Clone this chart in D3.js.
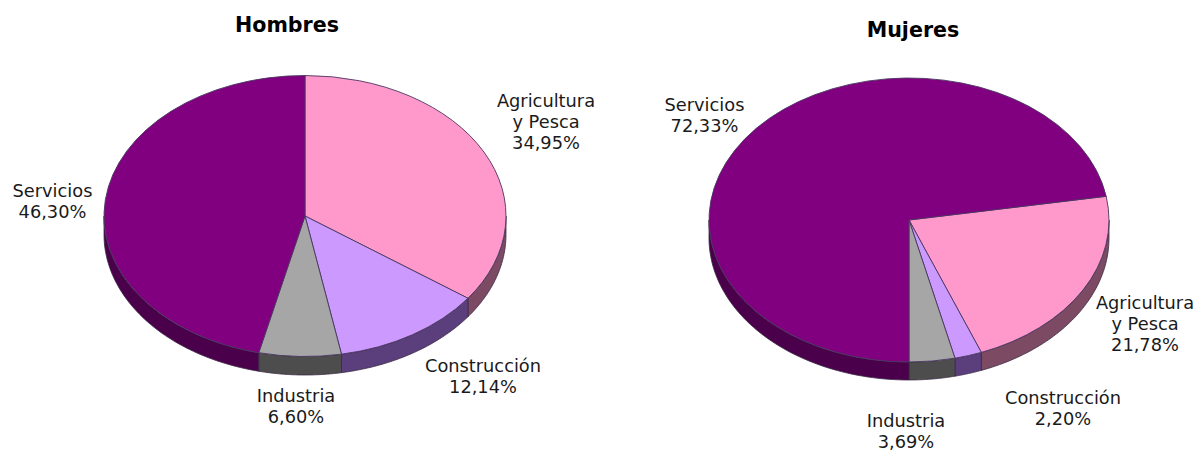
<!DOCTYPE html>
<html>
<head>
<meta charset="utf-8">
<script src="https://cdn.jsdelivr.net/npm/d3@7"></script>
<style>
  html, body { margin: 0; padding: 0; background: #fff; }
  svg { display: block; }
  text { font-family: "DejaVu Sans", Verdana, sans-serif; font-size: 17.8px; fill: #1a1a1a; }
  text.title { font-weight: bold; font-size: 20.6px; fill: #000; }
</style>
</head>
<body>
<svg id="chart" width="1197" height="451"></svg>
<script>
// sectores, en el orden de las agujas del reloj
const sectores = ["Agricultura y Pesca", "Construcción", "Industria", "Servicios"];
const hombres = [34.95, 12.14, 6.60, 46.30];
const mujeres = [21.78, 2.20, 3.69, 72.33];

const colores = ["#ff99cc", "#cc99ff", "#a6a6a6", "#800080"];
const coloresLado = ["#7d4a64", "#5a3f7c", "#4d4d4d", "#4a004a"];

const svg = d3.select("#chart");

// angulos en radianes desde arriba
const tau = 2 * Math.PI;

function drawPie(conf) {
  const rx = conf.rx, ry = conf.ry, depth = conf.depth;
  const pie = d3.pie().sort(null).value(d => d).startAngle(conf.start).endAngle(conf.start + tau);
  const arcs = pie(conf.values);

  const yFactor = ry / rx;
  const arc = d3.arc().innerRadius(0).outerRadius(rx);

  const g = svg.append("g").attr("transform", `translate(${conf.cx},${conf.cy})`);

  // pared lateral: solo la mitad de abajo se ve
  function wallPath(a0, a1) {
    const ang = d3.range(0, 61).map(i => a0 + (a1 - a0) * i / 60);
    const top = ang.map(a => [rx * Math.sin(a), -ry * Math.cos(a)]);
    const bot = ang.slice().reverse().map(a => [rx * Math.sin(a), -ry * Math.cos(a) + depth]);
    return d3.line()(top.concat(bot)) + "Z";
  }

  arcs.forEach((d, i) => {
    for (let k = 0; k < 2; k++) {
      const a0 = Math.max(d.startAngle, Math.PI / 2 + k * tau);
      const a1 = Math.min(d.endAngle, 3 * Math.PI / 2 + k * tau);
      if (a1 > a0) {
        g.append("path")
          .attr("d", wallPath(a0, a1))
          .attr("fill", coloresLado[i])
          .attr("stroke", "#3a2a45")
          .attr("stroke-width", 0.8);
      }
    }
  });

  g.append("g").attr("transform", `scale(1,${yFactor})`)
    .selectAll("path")
    .data(arcs)
    .join("path")
    .attr("d", arc)
    .attr("fill", (d, i) => colores[i])
    .attr("stroke", "#4a3560")
    .attr("stroke-width", 0.9)
    .attr("vector-effect", "non-scaling-stroke");

  svg.append("text").attr("class", "title")
    .attr("x", conf.titleX).attr("y", conf.titleY)
    .attr("text-anchor", "middle").text(conf.title);

  // etiquetas
  conf.labels.forEach((lab, i) => {
    const pct = d3.format(".2f")(conf.values[i]).replace(".", ",") + "%";
    const lines = i === 0 ? ["Agricultura", "y Pesca", pct] : [sectores[i], pct];
    const t = svg.append("text").attr("text-anchor", "middle");
    lines.forEach((s, j) => {
      t.append("tspan").attr("x", lab[0]).attr("y", lab[1] + j * 21).text(s);
    });
  });
}

drawPie({
  title: "Hombres", values: hombres,
  cx: 305, cy: 216, rx: 201, ry: 140.5, depth: 18.5, start: 0,
  titleX: 287, titleY: 32,
  labels: [[546, 107], [483, 372], [296, 402], [52.5, 197]]
});

// en mujeres Servicios arranca justo abajo, en 180 grados
const inicioMujeres = Math.PI - d3.sum(mujeres.slice(0, 3)) / 100 * tau;
drawPie({
  title: "Mujeres", values: mujeres,
  cx: 909, cy: 220, rx: 200, ry: 142, depth: 18, start: inicioMujeres,
  titleX: 913, titleY: 37,
  labels: [[1145, 309], [1063, 404], [906, 427], [704.5, 111]]
});
</script>
</body>
</html>
